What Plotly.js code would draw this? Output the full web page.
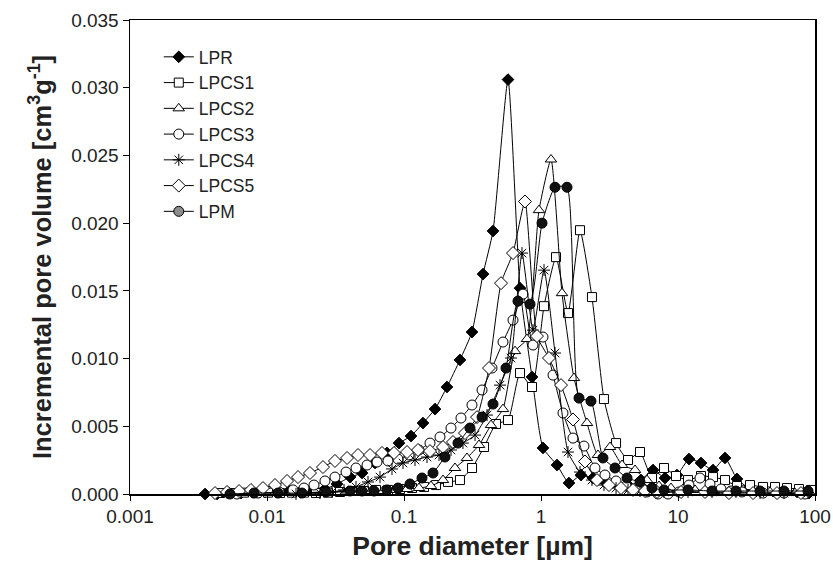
<!DOCTYPE html>
<html>
<head>
<meta charset="utf-8">
<script src="https://cdn.plot.ly/plotly-3.0.1.min.js"></script>
<style>html,body{margin:0;padding:0;background:#fff;}#chart{width:833px;height:571px;}</style>
</head>
<body>
<div id="chart"></div>
<script>
// Pore diameter [um] and incremental pore volume [cm3/g] for each sample
const lprD = [0.00353,0.00432,0.00528,0.00646,0.0079,0.00967,0.01183,0.01447,0.01771,0.02166,0.02649,0.03241,0.0404,0.0494,0.0614,0.0751,0.0919,0.1125,0.1376,0.1684,0.2059,0.2562,0.3134,0.3775,0.4464,0.5744,0.7027,0.8598,1.034,1.309,1.601,1.958,2.395,2.93,3.589,4.39,5.371,6.57,8.039,9.833,12.03,14.72,18.01,22.03,26.94,33.0,40.37,49.38,60.39,73.91,90.42];
const lprV = [0,0,0.00007,0.00007,0.00015,0.00015,0.00015,0.00022,0.00022,0.0003,0.00037,0.00074,0.00125,0.00155,0.00229,0.00303,0.00376,0.00428,0.00524,0.00627,0.0079,0.0099,0.01196,0.01624,0.01942,0.0306,0.0152,0.00864,0.0034,0.00214,0.00081,0.0014,0.00118,0.00089,0.00074,0.00059,0.00103,0.00177,0.00118,0.0014,0.00258,0.00229,0.00177,0.00266,0.00111,0.00044,0.0003,0.00022,0.00022,0.00015,0.00007];

const lpcs1D = [0.00454,0.00555,0.00679,0.00831,0.01017,0.01244,0.01522,0.01862,0.02278,0.02786,0.03413,0.04175,0.05107,0.06246,0.0764,0.09346,0.1144,0.14,0.1712,0.2094,0.2562,0.3138,0.3839,0.4695,0.5744,0.7027,0.8598,1.052,1.287,1.574,1.926,2.355,2.881,3.53,4.318,5.28,6.46,7.899,9.671,11.83,14.72,18.01,22.03,26.94,33.56,41.75,51.07,62.46,76.4,93.46];
const lpcs1V = [0.00007,0.00007,0.0001,0.00007,0.0001,0.00007,0.0001,0.0001,0.00007,0.0001,0.00015,0.00022,0.00022,0.0003,0.0003,0.00037,0.00044,0.00052,0.00066,0.00089,0.00103,0.00192,0.00347,0.00517,0.00546,0.00893,0.0079,0.01387,0.01749,0.01336,0.01948,0.01454,0.00701,0.00376,0.00251,0.0031,0.00118,0.00192,0.00133,0.00103,0.00133,0.00125,0.00103,0.00059,0.00066,0.00052,0.00052,0.00044,0.00037,0.0003];

const lpcs2D = [0.00511,0.00764,0.01144,0.01712,0.02562,0.03839,0.05744,0.07027,0.08598,0.1052,0.1287,0.1574,0.1926,0.2355,0.2881,0.353,0.4318,0.528,0.646,0.7899,0.9671,1.183,1.423,1.741,2.166,2.605,3.191,3.903,4.857,5.938,7.267,8.889,10.88,13.31,20.25,30.85,46.95,71.43,91.91];
const lpcs2V = [0,0.00007,0.00007,0.00007,0.00015,0.00015,0.00022,0.00022,0.0003,0.00037,0.00044,0.00059,0.00103,0.00192,0.00266,0.00362,0.00509,0.00627,0.01055,0.01144,0.02096,0.0247,0.01483,0.00856,0.00524,0.00288,0.00347,0.00214,0.00177,0.00103,0.00059,0.00044,0.00037,0.0003,0.00022,0.00015,0.00015,0.00007,0.00007];

const lpcs3D = [0.00604,0.0086,0.01224,0.01548,0.01862,0.02203,0.02649,0.03134,0.03775,0.04464,0.05371,0.06353,0.0764,0.09042,0.1088,0.1287,0.1548,0.1831,0.2203,0.2605,0.3134,0.3712,0.439,0.528,0.6246,0.7391,0.8741,1.034,1.224,1.447,1.712,2.059,2.477,2.93,3.53,4.175,5.023,5.938,7.143,8.453,10.17,12.03,14.47,17.12,20.59,24.36,29.34,41.75,59.38,84.53];
const lpcs3V = [0,0.00007,0.00015,0.0003,0.00044,0.00066,0.00096,0.00125,0.00162,0.00192,0.00214,0.00236,0.00244,0.00258,0.00288,0.00325,0.00376,0.00421,0.00487,0.00561,0.00657,0.00768,0.0093,0.01122,0.01284,0.01476,0.011,0.01159,0.00878,0.00598,0.00413,0.00354,0.00192,0.0014,0.00096,0.00059,0.0003,0.00015,0,0,0.00015,0.00066,0.00118,0.00074,0.00037,0.00022,0.00015,0.00007,0.00007,0];

const lpcs4D = [0.01628,0.02436,0.0298,0.0365,0.04464,0.05461,0.0668,0.0817,0.09833,0.1203,0.1472,0.1801,0.2203,0.2694,0.33,0.4037,0.5023,0.6039,0.7267,0.8741,1.052,1.266,1.574,1.926,2.355,2.881,3.53,4.318,5.28,7.899,11.83,17.71,26.49,39.7,59.38,88.89];
const lpcs4V = [0,0.00007,0.00015,0.0003,0.00052,0.00089,0.00125,0.00185,0.00229,0.00251,0.00273,0.00288,0.00325,0.00376,0.00435,0.00583,0.00804,0.01004,0.01779,0.0121,0.01653,0.01041,0.0031,0.00162,0.00103,0.00066,0.00044,0.0003,0.00022,0.00015,0.00015,0.00015,0.00015,0.00007,0.00007,0.00007];

const lpcs5D = [0.004175,0.00511,0.00625,0.00764,0.00935,0.01144,0.014,0.01684,0.02059,0.02562,0.03134,0.03839,0.04617,0.05647,0.06911,0.08453,0.1052,0.1266,0.1548,0.1926,0.2278,0.2786,0.3413,0.4175,0.5107,0.6246,0.764,0.9346,1.144,1.4,1.712,2.094,2.562,3.134,3.839,4.695,5.744,7.027,10.52,15.74,23.55,35.3,52.8,78.99];
const lpcs5V = [0.00007,0.00015,0.00022,0.0003,0.00044,0.00066,0.00096,0.00125,0.00155,0.00199,0.00244,0.00266,0.00288,0.00288,0.00303,0.00303,0.0031,0.00325,0.00317,0.00347,0.00384,0.0045,0.00568,0.0093,0.01557,0.01779,0.0216,0.01166,0.01004,0.00804,0.0055,0.0024,0.00103,0.00066,0.00044,0.0003,0.00022,0.00015,0.00015,0.00015,0.00007,0.00007,0.00007,0.00007];

const lpmD = [0.00537,0.00804,0.01203,0.01801,0.02694,0.04037,0.04938,0.06039,0.07513,0.09042,0.1106,0.1353,0.1628,0.1991,0.2477,0.303,0.3712,0.4464,0.5552,0.6793,0.8313,1.017,1.266,1.548,1.894,2.316,2.833,3.471,4.246,5.28,6.46,7.899,11.83,17.71,26.49,39.7,59.38,88.89];
const lpmV = [0,0.00007,0.00007,0.00007,0.00015,0.00022,0.00022,0.00022,0.0003,0.00044,0.00074,0.00118,0.00155,0.00273,0.00376,0.00487,0.00568,0.00664,0.0093,0.01424,0.01402,0.02,0.02265,0.02265,0.00708,0.00686,0.00266,0.00192,0.00118,0.00089,0.00044,0.0003,0.0003,0.00022,0.00022,0.00022,0.00022,0.00022];

const xTickVals = [0.001, 0.01, 0.1, 1, 10, 100];
const xTickText = ['0.001', '0.01', '0.1', '1', '10', '100'];

const lineStyle = {color: '#000', width: 1, shape: 'spline', smoothing: 0.5};
function mk(name, x, y, marker, extra) {
  return Object.assign({type: 'scatter', mode: 'lines+markers', name: name, x: x, y: y,
    line: lineStyle, marker: marker, cliponaxis: false}, extra || {});
}
const open = (sym, size) => ({symbol: sym, size: size, color: '#fff', line: {color: '#000', width: 1}});

const traces = [
  mk('LPR', lprD, lprV, {symbol: 'diamond', size: 9, color: '#000', line: {color: '#000', width: 1}}, {legendgroup: 'a'}),
  mk('LPCS1', lpcs1D, lpcs1V, open('square', 9), {legendgroup: 'b'}),
  mk('LPCS2', lpcs2D, lpcs2V, open('triangle-up', 10), {legendgroup: 'c'}),
  mk('LPCS3', lpcs3D, lpcs3V, open('circle', 10), {legendgroup: 'd'}),
  mk('LPCS4', lpcs4D, lpcs4V, {symbol: 'asterisk-open', size: 10, color: '#000', line: {color: '#000', width: 1}}, {legendgroup: 'e'}),
  mk('LPCS5', lpcs5D, lpcs5V, open('diamond', 10), {legendgroup: 'f'}),
  mk('LPM', lpmD, lpmV, {symbol: 'circle', size: 10, color: '#111', line: {color: '#000', width: 1}}, {legendgroup: 'g', showlegend: false}),
  {type: 'scatter', mode: 'lines+markers', name: 'LPM', x: [null], y: [null], legendgroup: 'g',
   line: {color: '#000', width: 1}, marker: {symbol: 'circle', size: 10, color: '#8c8c8c', line: {color: '#000', width: 1}}}
];

const fontFam = '"Liberation Sans", Arial, sans-serif';
const layout = {
  width: 833, height: 571,
  margin: {l: 130, r: 18, t: 20, b: 77},
  paper_bgcolor: '#fff', plot_bgcolor: '#fff',
  font: {family: fontFam, color: '#222', size: 17},
  showlegend: true,
  legend: {x: 0.042, y: 0.96, xanchor: 'left', yanchor: 'top', bgcolor: 'rgba(0,0,0,0)',
    font: {family: fontFam, size: 17.5, color: '#222'}, traceorder: 'grouped', tracegroupgap: 0},
  xaxis: {
    type: 'log', range: [-3, 2],
    tickvals: xTickVals, ticktext: xTickText,
    ticks: 'outside', ticklen: 5, tickwidth: 1, tickcolor: '#000',
    showline: true, linecolor: '#000', linewidth: 1.5, mirror: true,
    showgrid: false, zeroline: false,
    tickfont: {family: fontFam, size: 19, color: '#222'},
    title: {text: '<b>Pore diameter [µm]</b>', font: {family: fontFam, size: 26.5, color: '#222'}, standoff: 10}
  },
  yaxis: {
    range: [0, 0.035], dtick: 0.005, tick0: 0, tickformat: '.3f',
    ticks: 'outside', ticklen: 6, tickwidth: 1, tickcolor: '#000',
    showline: true, linecolor: '#000', linewidth: 1.5, mirror: true,
    showgrid: false, zeroline: false,
    tickfont: {family: fontFam, size: 19, color: '#222'},
    title: {text: '<b>Incremental pore volume [cm<sup>3</sup>g<sup>-1</sup>]</b>', font: {family: fontFam, size: 25.5, color: '#222'}, standoff: 12}
  }
};

Plotly.newPlot('chart', traces, layout, {displayModeBar: false, staticPlot: true});
</script>
</body>
</html>
